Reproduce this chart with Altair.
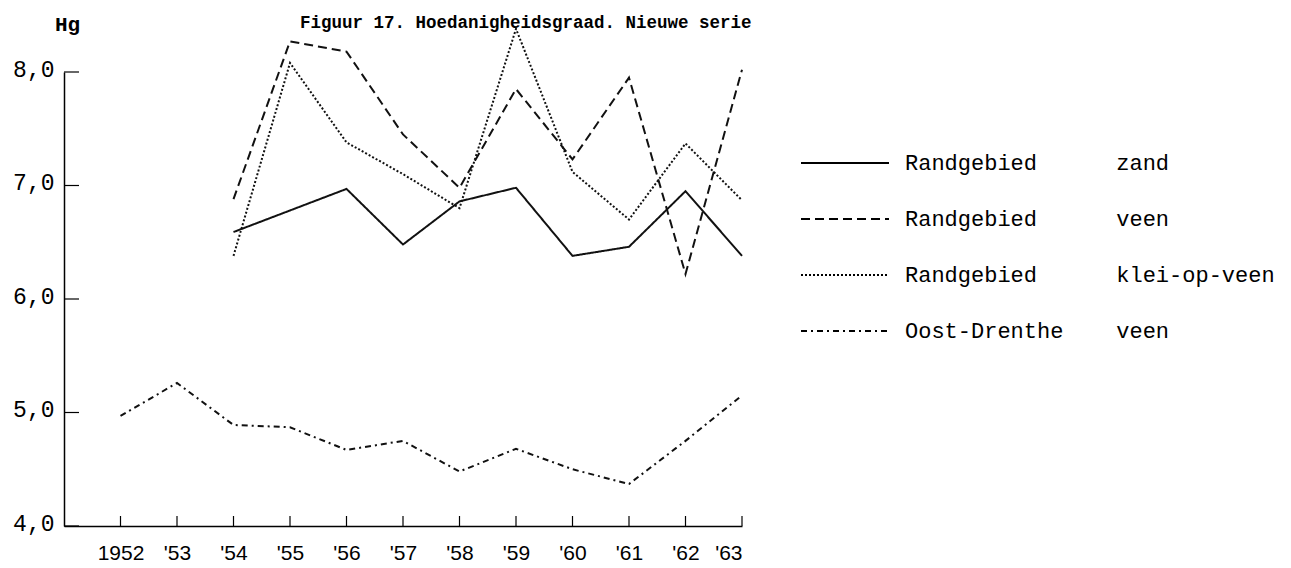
import json
import altair as alt
import pandas as pd

# ---- data ----
years = [1952, 1953, 1954, 1955, 1956, 1957, 1958, 1959, 1960, 1961, 1962, 1963]
tick_labels = ["1952", "'53", "'54", "'55", "'56", "'57", "'58", "'59", "'60", "'61", "'62", "'63"]
y_ticks = [4.0, 5.0, 6.0, 7.0, 8.0]

randgebied_zand = [None, None, 6.59, 6.78, 6.97, 6.48, 6.86, 6.98, 6.38, 6.46, 6.95, 6.38]
randgebied_veen = [None, None, 6.88, 8.27, 8.18, 7.45, 6.98, 7.85, 7.23, 7.95, 6.22, 8.02]
randgebied_klei = [None, None, 6.38, 8.08, 7.38, 7.10, 6.80, 8.38, 7.12, 6.70, 7.37, 6.87]
oost_drenthe_veen = [4.97, 5.26, 4.89, 4.87, 4.67, 4.75, 4.48, 4.68, 4.50, 4.37, 4.75, 5.15]

NB = "\u00a0"
series_names = [
    "Randgebied" + NB * 6 + "zand",
    "Randgebied" + NB * 6 + "veen",
    "Randgebied" + NB * 6 + "klei-op-veen",
    "Oost-Drenthe" + NB * 4 + "veen",
]
series_values = [randgebied_zand, randgebied_veen, randgebied_klei, oost_drenthe_veen]
dashes = [[1, 0], [9, 5], [2, 2], [6, 4, 2, 4]]
widths = [2.0, 2.0, 1.5, 1.5]

rows = []
for name, vals in zip(series_names, series_values):
    for yr, v in zip(years, vals):
        if v is not None:
            rows.append({"year": yr, "value": v, "series": name})
df = pd.DataFrame(rows)
df_xt = pd.DataFrame({"year": years})
df_yt = pd.DataFrame({"value": y_ticks})

label_expr_x = "[" + ",".join(json.dumps(t) for t in tick_labels) + "][datum.value - 1952]"

x_axis = alt.Axis(values=years, ticks=False, labelExpr=label_expr_x, labelFont="Liberation Sans",
                  labelFontSize=21, labelPadding=16, labelColor="black", title=None,
                  domainColor="black", domainWidth=1.5, grid=False)
y_axis = alt.Axis(values=y_ticks, ticks=False,
                  labelExpr="replace(format(datum.value, '.1f'), '.', ',')",
                  labelFont="Liberation Mono", labelFontSize=23, labelPadding=10,
                  labelColor="black", labelBaseline="middle", labelOffset=-3,
                  title="Hg", titleAngle=0, titleX=3, titleY=-42, titleAlign="center",
                  titleBaseline="alphabetic", titleFont="Liberation Mono", titleFontSize=21,
                  titleFontWeight="bold", titleColor="black",
                  domainColor="black", domainWidth=1.5, grid=False)

x_scale = alt.Scale(domain=[1951, 1963], nice=False, zero=False)
y_scale = alt.Scale(domain=[4, 8], nice=False, zero=False)

lines = alt.Chart(df).mark_line(color="#111").encode(
    x=alt.X("year:Q", scale=x_scale, axis=x_axis),
    y=alt.Y("value:Q", scale=y_scale, axis=y_axis),
    strokeDash=alt.StrokeDash(
        "series:N",
        scale=alt.Scale(domain=series_names, range=dashes),
        sort=series_names,
        legend=alt.Legend(title=None, orient="none", legendX=736, legendY=71,
                          symbolType="stroke", symbolSize=7744, clipHeight=40,
                          rowPadding=16, labelOffset=15, labelFont="Liberation Mono",
                          labelFontSize=22, labelColor="black", labelLimit=0,
                          symbolStrokeColor="black", symbolStrokeWidth=1.8,
                          padding=0),
    ),
    strokeWidth=alt.StrokeWidth("series:N", scale=alt.Scale(domain=series_names, range=widths),
                                legend=None),
)

xticks = alt.Chart(df_xt).mark_rule(color="black", strokeWidth=1.2).encode(
    x=alt.X("year:Q", scale=x_scale, axis=x_axis),
    y=alt.value(454),
    y2=alt.value(444),
)

yticks = alt.Chart(df_yt).mark_rule(color="black", strokeWidth=1.2).encode(
    y=alt.Y("value:Q", scale=y_scale, axis=y_axis),
    x=alt.value(0),
    x2=alt.value(15),
)

chart = alt.layer(lines, xticks, yticks).properties(
    width=678,
    height=454,
    title=alt.Title("Figuur 17. Hoedanigheidsgraad. Nieuwe serie", anchor="start", frame="group",
                    dx=236, font="Liberation Mono", fontSize=17.5, fontWeight="bold",
                    color="black", baseline="alphabetic", offset=-32),
    autosize=alt.AutoSizeParams(type="none"),
    padding={"left": 56, "top": 64, "right": 538, "bottom": 40},
).configure(background="white").configure_view(stroke=None)

chart.save("out.html", embed_options={"renderer": "svg", "actions": False})
